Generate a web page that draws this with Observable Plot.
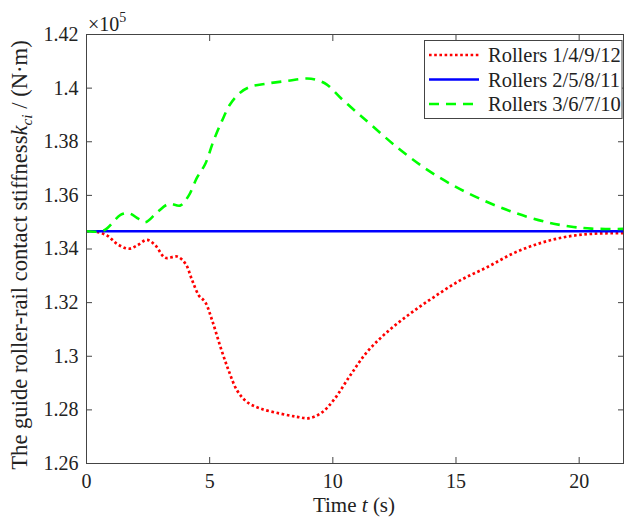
<!DOCTYPE html>
<html>
<head>
<meta charset="utf-8">
<script src="https://cdn.jsdelivr.net/npm/d3@7"></script>
<script src="https://cdn.jsdelivr.net/npm/@observablehq/plot@0.6"></script>
<style>
body { margin: 0; background: #fff; }
</style>
</head>
<body>
<div id="chart"></div>
<script>
const seriesNames = ["Rollers 1/4/9/12", "Rollers 2/5/8/11", "Rollers 3/6/7/10"];
const seriesColors = ["#ff0000", "#0000ff", "#00ff00"];

const redT = [0, 0.4, 0.84, 1.24, 1.71, 2.05, 2.46, 2.80, 3.20, 3.68, 4.02, 4.29, 4.56, 4.82, 5.10, 5.44, 5.77, 6.11, 6.52, 7.06, 7.87, 8.55, 9.05, 9.55, 10.03, 10.71, 11.39, 12.20, 13.14, 14.09, 15.17, 16.26, 17.33, 18.42, 19.50, 20.58, 21.8];
const redK = [1.3466, 1.3464, 1.3450, 1.3419, 1.3401, 1.3413, 1.3434, 1.3413, 1.3367, 1.3372, 1.3345, 1.3283, 1.3227, 1.3202, 1.3134, 1.3034, 1.2947, 1.2873, 1.2829, 1.2805, 1.2786, 1.2774, 1.2769, 1.2790, 1.2836, 1.2929, 1.3016, 1.3090, 1.3159, 1.3220, 1.3283, 1.3332, 1.3384, 1.3422, 1.3446, 1.3457, 1.3459];

const blueT = [0, 21.8];
const blueK = [1.3466, 1.3466];

const greenT = [0, 0.7, 1.38, 1.72, 2.12, 2.39, 2.87, 3.34, 3.81, 4.15, 4.49, 4.82, 5.16, 5.50, 5.84, 6.25, 6.65, 7.33, 8.14, 8.95, 9.36, 9.76, 10.30, 10.98, 11.52, 12.61, 13.68, 14.77, 15.98, 17.33, 18.69, 19.63, 20.5, 21.8];
const greenK = [1.3466, 1.3469, 1.3527, 1.3533, 1.3512, 1.3500, 1.3537, 1.3568, 1.3562, 1.3599, 1.3667, 1.3717, 1.3804, 1.3878, 1.3941, 1.3984, 1.4005, 1.4017, 1.4027, 1.4036, 1.4030, 1.4013, 1.3965, 1.3909, 1.3866, 1.3779, 1.3705, 1.3643, 1.3587, 1.3537, 1.3500, 1.3484, 1.3476, 1.3475];

const xTicks = [0, 5, 10, 15, 20];
const yTicks = [1.26, 1.28, 1.30, 1.32, 1.34, 1.36, 1.38, 1.40, 1.42];
const yTickLabels = ["1.26", "1.28", "1.3", "1.32", "1.34", "1.36", "1.38", "1.4", "1.42"];

const toRows = (T, K) => T.map((t, i) => ({t, k: K[i]}));
const red = toRows(redT, redK);
const blue = toRows(blueT, blueK);
const green = toRows(greenT, greenK);

const axisColor = "#444";
const textColor = "#222";
const redDash = "2.6,2.6";
const greenDash = "10,7";
const font = "Liberation Serif, Times New Roman, serif";

const svg = Plot.plot({
  width: 625,
  height: 520,
  marginLeft: 86,
  marginRight: 2,
  marginTop: 34,
  marginBottom: 57,
  style: {fontFamily: font, fontSize: "20px", color: textColor, background: "#fff"},
  x: {domain: [0, 21.8]},
  y: {domain: [1.26, 1.42]},
  marks: [
    Plot.line(red, {x: "t", y: "k", stroke: seriesColors[0], strokeWidth: 2.7, strokeDasharray: redDash, strokeLinecap: "butt", curve: "catmull-rom"}),
    Plot.line(blue, {x: "t", y: "k", stroke: seriesColors[1], strokeWidth: 2.6, strokeLinecap: "butt"}),
    Plot.line(green, {x: "t", y: "k", stroke: seriesColors[2], strokeWidth: 2.6, strokeDasharray: greenDash, strokeLinecap: "butt", curve: "catmull-rom"}),
    Plot.frame({stroke: axisColor, strokeWidth: 1}),
    Plot.axisX({anchor: "bottom", ticks: xTicks, tickSize: -6, tickPadding: 16, label: null, stroke: axisColor, fill: textColor}),
    Plot.axisX({anchor: "top", ticks: xTicks, tickSize: -6, tickFormat: () => "", label: null, stroke: axisColor}),
    Plot.axisY({anchor: "left", ticks: yTicks, tickSize: -6, tickPadding: 14, tickFormat: (d, i) => yTickLabels[i], label: null, stroke: axisColor, fill: textColor}),
    Plot.axisY({anchor: "right", ticks: yTicks, tickSize: -6, tickFormat: () => "", label: null, stroke: axisColor})
  ]
});

document.getElementById("chart").appendChild(svg);

const s = d3.select(svg);

// x10^5 exponent
const ex = s.append("text").attr("x", 88).attr("y", 31).attr("text-anchor", "start").attr("font-family", font).attr("font-size", 20).attr("fill", textColor);
ex.append("tspan").text("×10");
ex.append("tspan").attr("font-size", 14).attr("dy", -9).text("5");

// x label
const xl = s.append("text").attr("x", 354).attr("y", 512).attr("text-anchor", "middle").attr("font-family", font).attr("font-size", 21).attr("fill", textColor);
xl.append("tspan").text("Time ");
xl.append("tspan").attr("font-style", "italic").text("t");
xl.append("tspan").text(" (s)");

// y label
const yl = s.append("text").attr("transform", "translate(27,255) rotate(-90)").attr("text-anchor", "middle").attr("font-family", font).attr("font-size", 22.6).attr("fill", textColor);
yl.append("tspan").text("The guide roller-rail contact stiffness");
yl.append("tspan").attr("font-style", "italic").text("k");
yl.append("tspan").attr("font-style", "italic").attr("font-size", 15.5).attr("dy", 5).text("ci");
yl.append("tspan").attr("dy", -5).text(" / (N·m)");

// legend
const lg = s.append("g");
lg.append("rect").attr("x", 424.5).attr("y", 40.5).attr("width", 197.5).attr("height", 78).attr("fill", "#fff").attr("stroke", axisColor).attr("stroke-width", 1);
const rowsY = [55, 79.5, 104];
const dashes = [redDash, null, greenDash];
seriesNames.forEach((name, i) => {
  lg.append("line").attr("x1", 429).attr("x2", 479).attr("y1", rowsY[i]).attr("y2", rowsY[i])
    .attr("stroke", seriesColors[i]).attr("stroke-width", 2.6).attr("stroke-dasharray", dashes[i]);
  lg.append("text").attr("x", 488).attr("y", rowsY[i] + 7).attr("text-anchor", "start").attr("font-family", font).attr("font-size", 20.5).attr("fill", textColor).text(name);
});
</script>
</body>
</html>
